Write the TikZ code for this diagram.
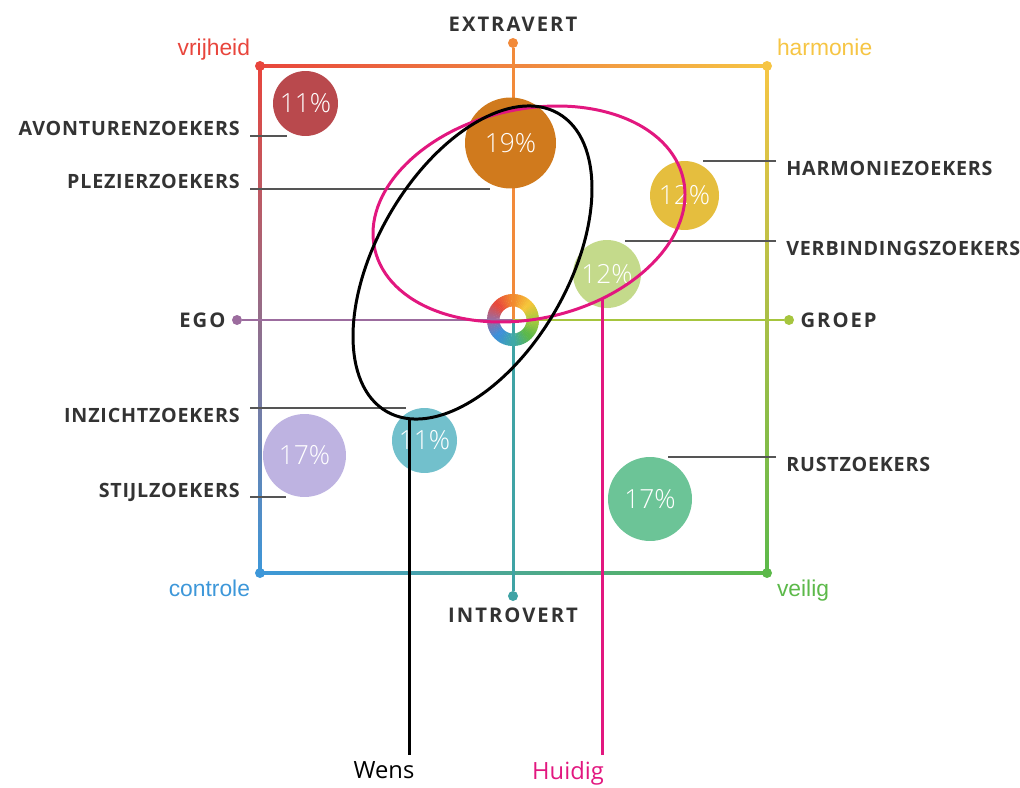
\documentclass[tikz,border=0pt]{standalone}
\usepackage{fontspec}
\setmainfont{Open Sans}
\newfontfamily\cornerfont{Liberation Sans}
\newfontfamily\groupfont{Open Sans}[LetterSpace=4]
\newfontfamily\axisfont{Open Sans}[LetterSpace=10]
\IfFontExistsTF{Open Sans Light}{\newfontfamily\pctfont{Open Sans Light}}{\newfontfamily\pctfont{Open Sans}}
\usetikzlibrary{positioning,calc,intersections}
\definecolor{cVrij}{HTML}{E8453C}
\definecolor{cExtra}{HTML}{F28A3A}
\definecolor{cHarm}{HTML}{F6C544}
\definecolor{cEgo}{HTML}{9C6C9E}
\definecolor{cCtrl}{HTML}{3D97D9}
\definecolor{cIntro}{HTML}{3FA3A5}
\definecolor{cVeil}{HTML}{5CB94A}
\definecolor{cGroep}{HTML}{A6C53E}
\definecolor{darktext}{HTML}{333333}
\definecolor{leadgray}{HTML}{555555}
\definecolor{cAvont}{HTML}{B9494D}
\definecolor{cPlez}{HTML}{D07A1D}
\definecolor{cHarmB}{HTML}{E5BE3E}
\definecolor{cVerb}{HTML}{C4DA8B}
\definecolor{cInz}{HTML}{72C0CC}
\definecolor{cStijl}{HTML}{BEB3E1}
\definecolor{cRust}{HTML}{6CC497}
\definecolor{cHuidig}{HTML}{E2177F}
\definecolor{ringA}{HTML}{E84A3C}
\definecolor{ringB}{HTML}{F28A2E}
\definecolor{ringC}{HTML}{F5C53A}
\definecolor{ringD}{HTML}{A9CB3E}
\definecolor{ringE}{HTML}{5DB84A}
\definecolor{ringF}{HTML}{3FA8A8}
\definecolor{ringG}{HTML}{3D8FD9}
\definecolor{ringH}{HTML}{9C6C9E}

\begin{document}
\begin{tikzpicture}[x=0.02cm,y=-0.02cm,
    axisdot/.style={circle,inner sep=0pt,minimum size=0.2cm},
    axislabel/.style={text=darktext,font=\axisfont\bfseries\fontsize{11.5}{12}\selectfont},
    cornerlabel/.style={font=\cornerfont\fontsize{13}{14}\selectfont},
    bubble/.style={circle,inner sep=0pt,text=white,font=\pctfont\fontsize{15}{15}\selectfont},
    grouplabel/.style={inner sep=0pt,text=darktext,font=\groupfont\bfseries\fontsize{11.2}{12}\selectfont},
    leader/.style={draw=leadgray,line width=0.7pt},
    axisline/.style={line width=1.7pt},
    wishlabel/.style={font=\fontsize{13.5}{14}\selectfont}]
    \useasboundingbox (0,0) rectangle (1020,787);

    \shade [left color=cVrij,middle color=cExtra,right color=cHarm] (260,64.5) rectangle (767,67.5);
    \shade [top color=cVrij,middle color=cEgo,bottom color=cCtrl] (258.5,66) rectangle (261.5,573);
    \shade [left color=cCtrl,middle color=cIntro,right color=cVeil] (260,571.5) rectangle (767,574.5);
    \shade [top color=cHarm,middle color=cGroep,bottom color=cVeil] (765.5,66) rectangle (768.5,573);

    \coordinate (mid) at (513,320);
    \node (extravert) [axisdot,fill=cExtra,label={[axislabel]above:EXTRAVERT}] at (513,43) {};
    \node (introvert) [axisdot,fill=cIntro,label={[axislabel]below:INTROVERT}] at (513,596) {};
    \node (ego) [axisdot,fill=cEgo,label={[axislabel]left:EGO}] at (237,320) {};
    \node (groep) [axisdot,fill=cGroep,label={[axislabel]right:GROEP}] at (789,320) {};
    \draw [axisline,cExtra] (extravert) -- (mid);
    \draw [axisline,cIntro] (introvert) -- (mid);
    \draw [axisline,cEgo] (ego) -- (mid);
    \draw [axisline,cGroep] (groep) -- (mid);

    \node (vrijheid-dot) [axisdot,fill=cVrij,label={[cornerlabel,text=cVrij,yshift=-0.09cm]above left:vrijheid}] at (260,66) {};
    \node (harmonie-dot) [axisdot,fill=cHarm,label={[cornerlabel,text=cHarm]above right:harmonie}] at (767,66) {};
    \node (controle-dot) [axisdot,fill=cCtrl,label={[cornerlabel,text=cCtrl,yshift=0.06cm]below left:controle}] at (260,573) {};
    \node (veilig-dot) [axisdot,fill=cVeil,label={[cornerlabel,text=cVeil,yshift=0.06cm]below right:veilig}] at (767,573) {};

    \node (avontuur-label) [grouplabel,anchor=base east] at (240,136) {AVONTURENZOEKERS};
    \node (plezier-label) [grouplabel,anchor=base east] at (240,189) {PLEZIERZOEKERS};
    \node (inzicht-label) [grouplabel,anchor=north east] at (240,408) {INZICHTZOEKERS};
    \node (stijl-label) [grouplabel,anchor=base east] at (240,497) {STIJLZOEKERS};
    \node (harmonie-label) [grouplabel,anchor=north west] at (786,161) {HARMONIEZOEKERS};
    \node (verbinding-label) [grouplabel,anchor=north west] at (786,241) {VERBINDINGSZOEKERS};
    \node (rust-label) [grouplabel,anchor=north west] at (786,457) {RUSTZOEKERS};
    \draw [leader] (avontuur-label.base east) ++(10,0) -- ++(37,0);
    \draw [leader] (plezier-label.base east) ++(10,0) -- ++(240,0);
    \draw [leader] (inzicht-label.north east) ++(10,0) -- ++(156,0);
    \draw [leader] (stijl-label.base east) ++(10,0) -- ++(36,0);
    \draw [leader] (harmonie-label.north west) ++(-10,0) -- ++(-73,0);
    \draw [leader] (verbinding-label.north west) ++(-10,0) -- ++(-151,0);
    \draw [leader] (rust-label.north west) ++(-10,0) -- ++(-108,0);

    \node (avontuur) [bubble,fill=cAvont,minimum size=1.3cm] at (305.5,103.5) {11\%};
    \node (plezier) [bubble,fill=cPlez,minimum size=1.82cm] at (510.5,143) {19\%};
    \node (harmonie) [bubble,fill=cHarmB,minimum size=1.38cm] at (684.5,195.5) {12\%};
    \node (verbinding) [bubble,fill=cVerb,minimum size=1.36cm] at (607,274) {12\%};
    \node (inzicht) [bubble,fill=cInz,minimum size=1.3cm] at (424.5,440.5) {11\%};
    \node (stijl) [bubble,fill=cStijl,minimum size=1.66cm] at (304.5,455.5) {17\%};
    \node (rust) [bubble,fill=cRust,minimum size=1.68cm] at (650,499) {17\%};

    \begin{scope}[shift={(mid)}]
      \foreach \s/\cA/\cB in {135/ringA/ringB,90/ringB/ringC,45/ringC/ringD,0/ringD/ringE,
          -45/ringE/ringF,-90/ringF/ringG,-135/ringG/ringH,-180/ringH/ringA} {
        \foreach \k in {0,...,8} {
          \pgfmathsetmacro{\p}{\k*12.5}
          \fill [\cB!\p!\cA] (\s-5*\k:0.52cm) -- (\s-5*\k-6:0.52cm) -- (\s-5*\k-6:0.27cm) -- (\s-5*\k:0.27cm) -- cycle;
        }
      }
    \end{scope}

    \draw [cHuidig,line width=1.7pt,name path=huidig,rotate around={12.85:(529,214)}]
      (529,214) ellipse [x radius=158.2,y radius=104.7];
    \draw [black,line width=1.7pt,name path=wens,rotate around={60.05:(472.5,262.5)}]
      (472.5,262.5) ellipse [x radius=172,y radius=95.9];

    \path [name path=wens-drop] (409,380) -- (409,760);
    \path [name path=huidig-drop] (602,260) -- (602,760);
    \path [name intersections={of=wens and wens-drop,by=wens-top}];
    \path [name intersections={of=huidig and huidig-drop,by=huidig-top}];
    \coordinate (wens-foot) at (409,755);
    \coordinate (huidig-foot) at (602,755);
    \draw [black,line width=1.7pt] (wens-top -| wens-foot) -- (wens-foot);
    \draw [cHuidig,line width=1.7pt] (huidig-top -| huidig-foot) -- (huidig-foot);
    \node (wens) [wishlabel,below=0pt of wens-foot,xshift=-0.5cm] {Wens};
    \node (huidig) [wishlabel,text=cHuidig,below=0pt of huidig-foot,xshift=-0.68cm] {Huidig};
\end{tikzpicture}
\end{document}
